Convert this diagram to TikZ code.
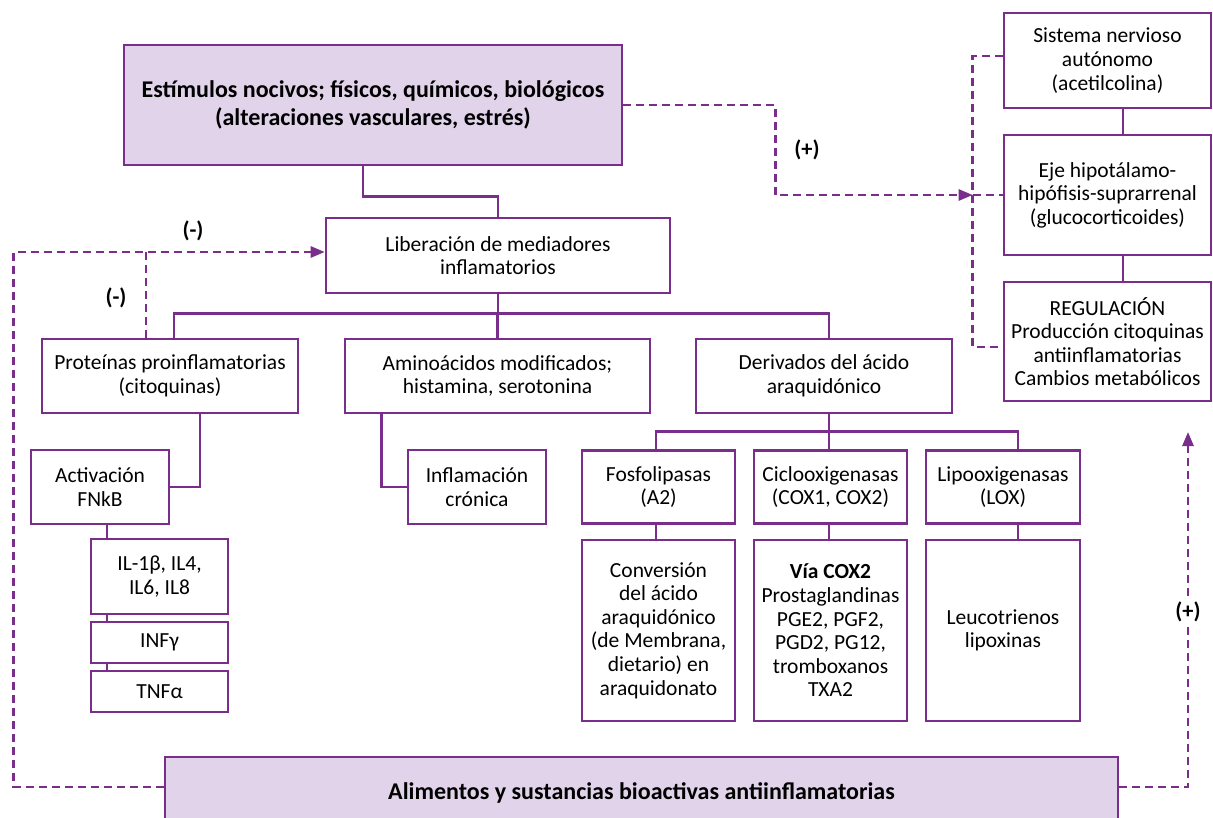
\documentclass[tikz,border=0pt]{standalone}
\usepackage{fontspec}
\setmainfont{Carlito}
\usetikzlibrary{arrows.meta}
\definecolor{pur}{HTML}{7B2D8B}
\definecolor{lil}{HTML}{E1D3EA}
\begin{document}
\begin{tikzpicture}[x=1pt,y=-1pt,
 box/.style={draw=pur, line width=2.6pt, fill=white, align=center, inner sep=0pt, font=\fontsize{21.5}{23.6}\selectfont, text=black},
 hbox/.style={box, fill=lil, font=\bfseries\fontsize{24}{28.5}\selectfont},
 conn/.style={draw=pur, line width=2.6pt},
 dsh/.style={draw=pur, line width=2.6pt, dash pattern=on 8pt off 5pt},
 arr/.style={-{Triangle[length=14pt,width=11pt]}},
 lbl/.style={font=\bfseries\fontsize{22.5}{26}\selectfont, inner sep=1pt, text=black}
]
\clip (0,0) rectangle (1213,817);
\fill[white] (0,0) rectangle (1213,817);

% main column
\node[hbox, minimum width=498pt, minimum height=120pt] (estim) at (373,105) {Estímulos nocivos; físicos, químicos, biológicos\\(alteraciones vasculares, estrés)};
\node[box, minimum width=344pt, minimum height=75pt] (liber) at (498,255.5) {Liberación de mediadores\\inflamatorios};
\node[box, minimum width=256pt, minimum height=74pt] (prot) at (170,376) {Proteínas proinflamatorias\\(citoquinas)};
\node[box, minimum width=305pt, minimum height=74pt] (amino) at (497.5,376) {Aminoácidos modificados;\\histamina, serotonina};
\node[box, minimum width=256pt, minimum height=74pt] (deriv) at (824,376) {Derivados del ácido\\araquidónico};

\node[box, minimum width=138pt, minimum height=74pt] (activ) at (100,487) {Activación\\FNkB};
\node[box, minimum width=137pt, minimum height=75pt] (il) at (159.5,576.5) {IL-1β, IL4,\\IL6, IL8};
\node[box, minimum width=137pt, minimum height=41pt] (inf) at (159.5,642.5) {INFγ};
\node[box, minimum width=137pt, minimum height=41pt] (tnf) at (159.5,691.5) {TNFα};

\node[box, minimum width=138pt, minimum height=74pt] (infl) at (477,487) {Inflamación\\crónica};

\node[box, minimum width=153pt, minimum height=73pt] (fosfo) at (658.5,487) {Fosfolipasas\\(A2)};
\node[box, minimum width=153pt, minimum height=73pt] (ciclo) at (830.5,487) {Ciclooxigenasas\\(COX1, COX2)};
\node[box, minimum width=154pt, minimum height=73pt] (lipo) at (1003,487) {Lipooxigenasas\\(LOX)};

\node[box, minimum width=153pt, minimum height=181pt] (conv) at (658.5,630.5) {Conversión\\del ácido\\araquidónico\\(de Membrana,\\dietario) en\\araquidonato};
\node[box, minimum width=153pt, minimum height=181pt] (via) at (830.5,630.5) {\textbf{Vía COX2}\\Prostaglandinas\\PGE2, PGF2,\\PGD2, PG12,\\tromboxanos\\TXA2};
\node[box, minimum width=154pt, minimum height=181pt] (leuco) at (1003,630.5) {Leucotrienos\\lipoxinas};

\node[hbox, minimum width=953pt, minimum height=72pt] (alim) at (641.5,793) {Alimentos y sustancias bioactivas antiinflamatorias};

% right column
\node[box, minimum width=207pt, minimum height=95pt] (sist) at (1107.5,60.5) {Sistema nervioso\\autónomo\\(acetilcolina)};
\node[box, minimum width=207pt, minimum height=120pt] (eje) at (1107.5,195) {Eje hipotálamo-\\hipófisis-suprarrenal\\(glucocorticoides)};
\node[box, minimum width=207pt, minimum height=119pt] (regu) at (1107.5,341.5) {REGULACIÓN\\Producción citoquinas\\antiinflamatorias\\Cambios metabólicos};

% solid connectors
\draw[conn] ([xshift=-10pt]estim.south) -- ++(0,30) -| (liber.north);
\draw[conn] (liber.south) -- ++(0,22);
\draw[conn] ([xshift=4pt]prot.north) -- ++(0,-24) -| ([xshift=5pt]deriv.north);
\draw[conn] (amino.north) -- ++(0,-24);
\draw[conn] ([xshift=30pt]prot.south) |- (activ.east);
\coordinate (ax) at ([xshift=7pt]activ.south);
\draw[conn] (ax) -- (ax |- il.north);
\draw[conn] (ax |- il.south) -- (ax |- inf.north);
\draw[conn] (ax |- inf.south) -- (ax |- tnf.north);
\draw[conn] ([xshift=38pt]amino.south west) |- (infl.west);
\draw[conn] ([xshift=5pt]deriv.south) -- ++(0,20);
\draw[conn] ([xshift=-2.5pt]fosfo.north) -- ++(0,-18) -| ([xshift=15pt]lipo.north);
\draw[conn] ([xshift=-1.5pt]ciclo.north) -- ++(0,-18);
\draw[conn] ([xshift=-2.5pt]fosfo.south) -- ([xshift=-2.5pt]conv.north);
\draw[conn] ([xshift=-1.5pt]ciclo.south) -- ([xshift=-1.5pt]via.north);
\draw[conn] ([xshift=15pt]lipo.south) -- ([xshift=15pt]leuco.north);
\draw[conn] ([xshift=15.5pt]sist.south) -- ([xshift=15.5pt]eje.north);
\draw[conn] ([xshift=15.5pt]eje.south) -- ([xshift=15.5pt]regu.north);

% dashed connectors
\coordinate (brm) at ([xshift=-30pt]eje.west);
\draw[dsh] ([yshift=4.5pt]sist.west) -- ++(-30,0) |- ([yshift=-5.5pt]regu.west);
\draw[dsh] (brm) -- (eje.west);
\draw[dsh, arr] (estim.east) -- ++(152,0) |- (brm);
\coordinate (upR) at (1188,432);
\draw[dsh, arr] ([yshift=6pt]alim.east) -| (upR);
\draw[dsh, arr] ([yshift=6pt]alim.west) -- ++(-150,0) |- ([yshift=3.5pt]liber.west);
\draw[dsh] ([xshift=-24pt]prot.north) -- ++(0,-87);

% labels
\node[lbl] (m1) at (193,231) {(-)};
\node[lbl] (m2) at (116,298) {(-)};
\node[lbl] (p1) at (807,150) {(+)};
\node[lbl, fill=white] (p2) at (1188,612) {(+)};
\end{tikzpicture}
\end{document}
